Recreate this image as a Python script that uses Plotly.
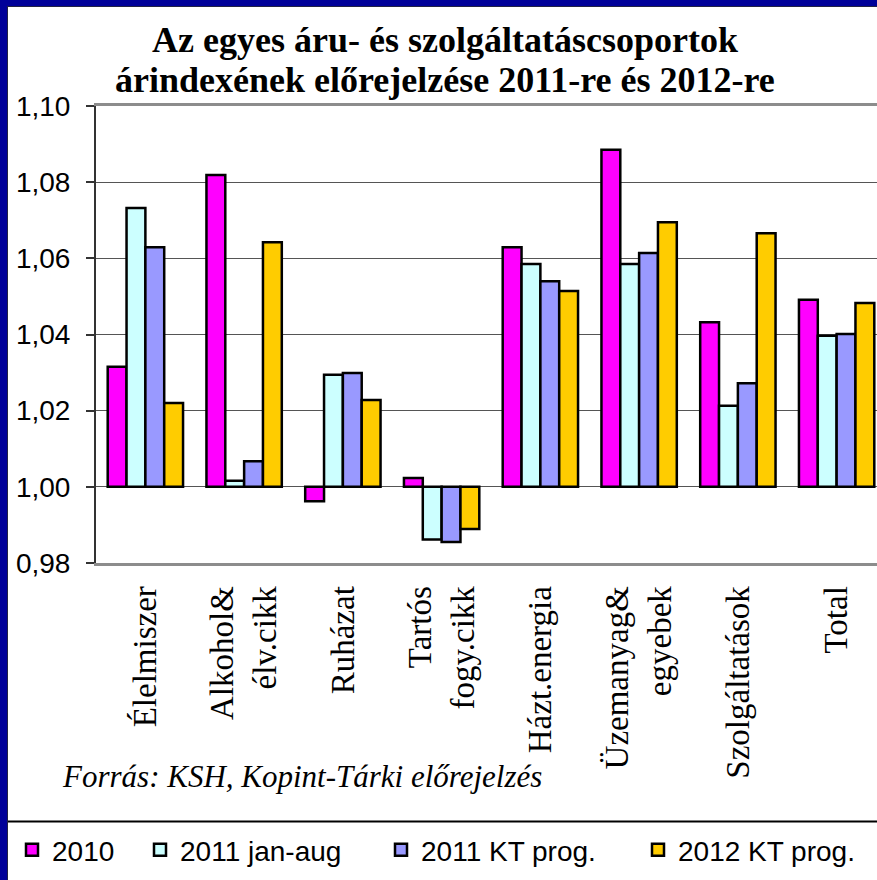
import plotly.graph_objects as go

categories = ["Élelmiszer", "Alkohol&<br>élv.cikk", "Ruházat", "Tartós<br>fogy.cikk",
              "Házt.energia", "Üzemanyag&<br>egyebek", "Szolgáltatások", "Total"]
series_names = ["2010", "2011 jan-aug", "2011 KT prog.", "2012 KT prog."]
v2010 = [1.0315, 1.0819, 0.9962, 1.0023, 1.0629, 1.0885, 1.0432, 1.0491]
v2011_janaug = [1.0732, 1.0016, 1.0294, 0.9862, 1.0585, 1.0585, 1.0213, 1.0397]
v2011_kt = [1.0629, 1.0067, 1.0299, 0.9855, 1.0540, 1.0614, 1.0272, 1.0401]
v2012_kt = [1.0220, 1.0642, 1.0228, 0.9889, 1.0514, 1.0695, 1.0666, 1.0483]
y_ticks = [0.98, 1.00, 1.02, 1.04, 1.06, 1.08, 1.10]
base_value = 1.00
title_lines = ["Az egyes áru- és szolgáltatáscsoportok",
               "árindexének előrejelzése 2011-re és 2012-re"]
source_text = "Forrás: KSH, Kopint-Tárki előrejelzés"

colors = ["#FF00FF", "#CCFFFF", "#9999FF", "#FFCC00"]
legend_widths = [83, 196, 212, 185]

W, H = 877, 880
ML, MR, MT, MB = 96, 0, 106, 317
PW, PH = W - ML - MR, H - MT - MB


def px_x(px):
    return (px - ML) / PW


def px_y(py):
    return (H - MB - py) / PH


fig = go.Figure()
for name, vals, col, lw in zip(series_names, [v2010, v2011_janaug, v2011_kt, v2012_kt], colors, legend_widths):
    fig.add_trace(go.Bar(
        x=list(range(len(categories))),
        y=[v - base_value for v in vals],
        base=base_value,
        name=name,
        marker=dict(color=col, line=dict(color="black", width=2.5)),
        legendwidth=lw,
        hoverinfo="skip",
    ))

cat_count = len(categories)
x_range = [-0.5, -0.5 + PW / 98.75]
ymin, ymax = y_ticks[0], y_ticks[-1]

fig.update_layout(
    width=W, height=H,
    margin=dict(l=ML, r=MR, t=MT, b=MB),
    paper_bgcolor="white", plot_bgcolor="white",
    separators=", ",
    barmode="group", bargap=0.237, bargroupgap=0,
    font=dict(family="Liberation Sans", color="black"),
    xaxis=dict(range=x_range, tickvals=list(range(cat_count)), ticktext=categories,
               tickangle=-90, tickfont=dict(family="Liberation Serif", size=33, color="black"),
               ticks="", ticklabelstandoff=7, showgrid=False, zeroline=False,
               showline=True, linecolor="#8c8c8c", linewidth=3, mirror=True),
    xaxis2=dict(overlaying="x", anchor="free", position=(base_value - ymin) / (ymax - ymin),
                range=x_range, tickvals=[i + 0.5 for i in range(cat_count - 1)],
                showticklabels=False, ticks="outside", ticklen=11, tickwidth=2, tickcolor="#888",
                showline=True, linecolor="#999", linewidth=2, showgrid=False, zeroline=False,
                layer="below traces"),
    yaxis=dict(range=[ymin, ymax], tickvals=y_ticks, tickformat=".2f",
               tickfont=dict(family="Liberation Sans", size=28, color="black"),
               ticks="outside", ticklen=8, tickcolor="#333", tickwidth=1.5, ticklabelstandoff=10,
               showline=True, linecolor="#333", linewidth=2,
               showgrid=True, gridcolor="#555", gridwidth=1, zeroline=False),
    legend=dict(orientation="h", x=px_x(12), xanchor="left", y=px_y(850), yanchor="middle",
                font=dict(family="Liberation Sans", size=28, color="black"),
                bgcolor="rgba(0,0,0,0)", traceorder="normal"),
    showlegend=True,
)

for line, cy in zip(title_lines, [40, 80]):
    fig.add_annotation(text="<b>" + line + "</b>", xref="paper", yref="paper",
                       x=px_x(445), y=px_y(cy), xanchor="center", yanchor="middle", showarrow=False,
                       font=dict(family="Liberation Serif", size=36, color="black"))

fig.add_annotation(text="<i>" + source_text + "</i>", xref="paper", yref="paper",
                   x=px_x(60), y=px_y(776), xanchor="left", yanchor="middle", showarrow=False,
                   font=dict(family="Liberation Serif", size=31, color="black"))

# separator line above legend
fig.add_shape(type="line", xref="paper", yref="paper", x0=px_x(7), x1=px_x(W), y0=px_y(821.5), y1=px_y(821.5),
              line=dict(color="black", width=2))
# blue frame (left and top)
fig.add_shape(type="rect", xref="paper", yref="paper", x0=px_x(0), x1=px_x(7), y0=px_y(H), y1=px_y(0),
              fillcolor="#000099", line=dict(width=0), layer="above")
fig.add_shape(type="rect", xref="paper", yref="paper", x0=px_x(0), x1=px_x(W), y0=px_y(6), y1=px_y(0),
              fillcolor="#000099", line=dict(width=0), layer="above")
fig.add_shape(type="line", xref="paper", yref="paper", x0=px_x(7.5), x1=px_x(7.5), y0=px_y(H), y1=px_y(6),
              line=dict(color="#222244", width=1))
fig.add_shape(type="line", xref="paper", yref="paper", x0=px_x(7), x1=px_x(W), y0=px_y(6.5), y1=px_y(6.5),
              line=dict(color="#222244", width=1))

fig.write_html("out.html", config={"displayModeBar": False},
               post_script="document.body.style.margin='0px';")
